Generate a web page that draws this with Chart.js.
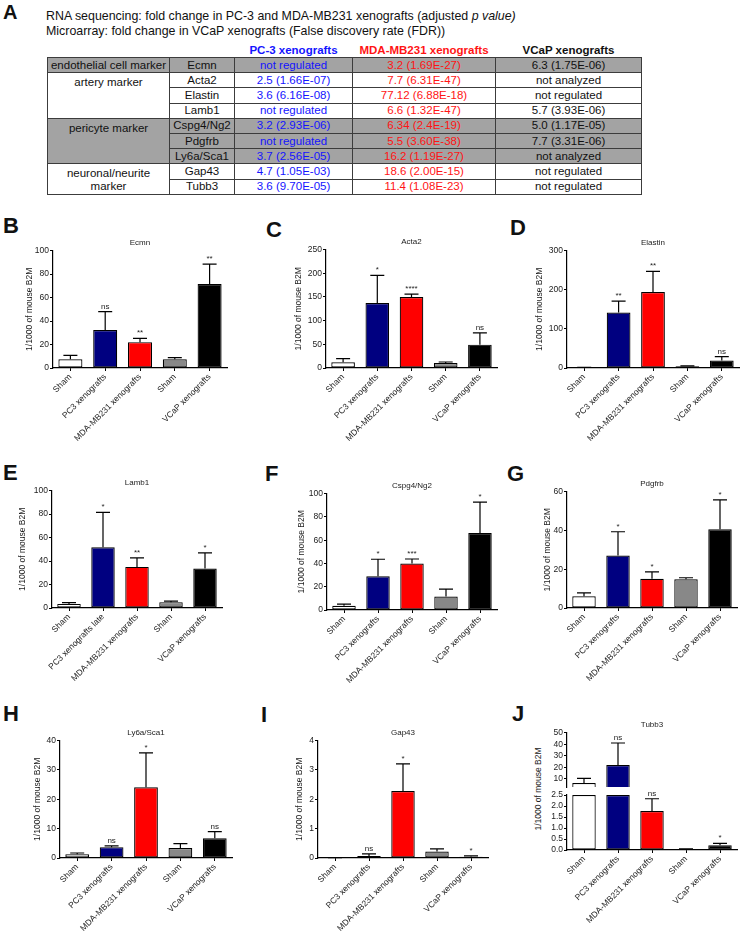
<!DOCTYPE html>
<html>
<head>
<meta charset="utf-8">
<script src="https://cdn.jsdelivr.net/npm/chart.js@4.4.0/dist/chart.umd.min.js"></script>
<style>
  html, body { margin: 0; padding: 0; background: #fff; }
  body { width: 740px; height: 931px; position: relative; overflow: hidden; font-family: "Liberation Sans", Arial, sans-serif; color: #111; }
  .letter { position: absolute; font-weight: bold; font-size: 22px; line-height: 22px; }
  .caption { position: absolute; left: 46px; top: 9px; font-size: 12.4px; line-height: 15px; white-space: nowrap; }
  table.tb { position: absolute; left: 47px; top: 44px; width: 594px; border-collapse: collapse; table-layout: fixed; font-size: 11.5px; }
  .tb td { border: 1px solid #3c3c3c; text-align: center; padding: 0; height: 14.2px; line-height: 13px; white-space: nowrap; overflow: hidden; }
  .tb tr.hd td { border: none; font-weight: bold; height: 13px; }
  .tb .g td { background: #a3a3a3; }
  .tb td.cat { vertical-align: top; padding-top: 3px; line-height: 12.7px; white-space: normal; }
  .blue { color: #1414ff; }
  .red { color: #ff1414; }
  .ytitle { position: absolute; font-size: 8.5px; color: #222; white-space: nowrap; transform: translate(-50%, -50%) rotate(-90deg); }
</style>
</head>
<body>
<div class="letter" style="left:3px;top:2px;font-size:20px;line-height:20px;">A</div>
<div class="caption">RNA sequencing: fold change in PC-3 and MDA-MB231 xenografts (adjusted <i>p value)</i><br>Microarray: fold change in VCaP xenografts (False discovery rate (FDR))</div>

<table class="tb">
  <colgroup><col style="width:122px"><col style="width:65px"><col style="width:118px"><col style="width:143px"><col style="width:146px"></colgroup>
  <tr class="hd"><td></td><td></td><td class="blue">PC-3 xenografts</td><td class="red">MDA-MB231 xenografts</td><td>VCaP xenografts</td></tr>
  <tr class="g"><td>endothelial cell marker</td><td>Ecmn</td><td class="blue">not regulated</td><td class="red">3.2 (1.69E-27)</td><td>6.3 (1.75E-06)</td></tr>
  <tr><td class="cat" rowspan="3">artery marker</td><td>Acta2</td><td class="blue">2.5 (1.66E-07)</td><td class="red">7.7 (6.31E-47)</td><td>not analyzed</td></tr>
  <tr><td>Elastin</td><td class="blue">3.6 (6.16E-08)</td><td class="red">77.12 (6.88E-18)</td><td>not regulated</td></tr>
  <tr><td>Lamb1</td><td class="blue">not regulated</td><td class="red">6.6 (1.32E-47)</td><td>5.7 (3.93E-06)</td></tr>
  <tr class="g"><td class="cat" rowspan="3">pericyte marker</td><td>Cspg4/Ng2</td><td class="blue">3.2 (2.93E-06)</td><td class="red">6.34 (2.4E-19)</td><td>5.0 (1.17E-05)</td></tr>
  <tr class="g"><td>Pdgfrb</td><td class="blue">not regulated</td><td class="red">5.5 (3.60E-38)</td><td>7.7 (3.31E-06)</td></tr>
  <tr class="g"><td>Ly6a/Sca1</td><td class="blue">3.7 (2.56E-05)</td><td class="red">16.2 (1.19E-27)</td><td>not analyzed</td></tr>
  <tr><td class="cat" rowspan="2">neuronal/neurite marker</td><td>Gap43</td><td class="blue">4.7 (1.05E-03)</td><td class="red">18.6 (2.00E-15)</td><td>not regulated</td></tr>
  <tr><td>Tubb3</td><td class="blue">3.6 (9.70E-05)</td><td class="red">11.4 (1.08E-23)</td><td>not regulated</td></tr>
</table>

<div class="letter" style="left:3px;top:215px;">B</div>
<div class="letter" style="left:266px;top:219px;">C</div>
<div class="letter" style="left:510px;top:217px;">D</div>
<div class="letter" style="left:3px;top:462px;">E</div>
<div class="letter" style="left:265px;top:463px;">F</div>
<div class="letter" style="left:507px;top:463px;">G</div>
<div class="letter" style="left:3px;top:703px;">H</div>
<div class="letter" style="left:261px;top:704px;">I</div>
<div class="letter" style="left:512px;top:703px;">J</div>
<div class="ytitle" style="left:538px;top:789px;">1/1000 of mouse B2M</div>

<script>
// groups on the x axis
const groupLabels = ['Sham', 'PC3 xenografts', 'MDA-MB231 xenografts', 'Sham', 'VCaP xenografts'];
const lamb1Labels = ['Sham', 'PC3 xenografts late', 'MDA-MB231 xenografts', 'Sham', 'VCaP xenografts'];
const barColors = ['#ffffff', '#000080', '#ff0000', '#888888', '#000000'];

// B - Ecmn
const ecmnMean = [7.4, 32.4, 22.0, 7.4, 71.6];
const ecmnSem = [3.4, 15.6, 3.3, 1.4, 16.8];
const ecmnSig = ['', 'ns', '**', '', '**'];
const ecmnTicks = [0, 20, 40, 60, 80, 100];

// C - Acta2
const acta2Mean = [12, 137, 150, 10.6, 49.3];
const acta2Sem = [7.7, 58.5, 6, 2.1, 24.7];
const acta2Sig = ['', '*', '****', '', 'ns'];
const acta2Ticks = [0, 50, 100, 150, 200, 250];

// D - Elastin
const elastinMean = [1, 142, 194, 4.5, 19];
const elastinSem = [0.5, 29, 53, 1, 10];
const elastinSig = ['', '**', '**', '', 'ns'];
const elastinTicks = [0, 100, 200, 300];

// E - Lamb1
const lamb1Mean = [3.5, 51.7, 35, 5, 33.6];
const lamb1Sem = [1, 29.8, 7.7, 0.8, 13.4];
const lamb1Sig = ['', '*', '**', '', '*'];
const lamb1Ticks = [0, 20, 40, 60, 80, 100];

// F - Cspg4/Ng2
const cspg4Mean = [3.6, 29, 40, 11.5, 66.2];
const cspg4Sem = [1.4, 14.6, 3.8, 6.5, 26.5];
const cspg4Sig = ['', '*', '***', '', '*'];
const cspg4Ticks = [0, 20, 40, 60, 80, 100];

// G - Pdgfrb
const pdgfrbMean = [6, 27, 15.1, 14.8, 40.6];
const pdgfrbSem = [1.8, 12.3, 3.5, 0.8, 15.1];
const pdgfrbSig = ['', '*', '*', '', '*'];
const pdgfrbTicks = [0, 20, 40, 60];

// H - Ly6a/Sca1
const ly6aMean = [1.3, 3.7, 24.1, 3.4, 6.7];
const ly6aSem = [0.4, 0.4, 11.7, 1.5, 2.3];
const ly6aSig = ['', 'ns', '*', '', 'ns'];
const ly6aTicks = [0, 10, 20, 30, 40];

// I - Gap43
const gap43Mean = [0.01, 0.07, 2.28, 0.22, 0.04];
const gap43Sem = [0.005, 0.07, 0.93, 0.09, 0.03];
const gap43Sig = ['', 'ns', '*', '', '*'];
const gap43Ticks = [0, 1, 2, 3, 4];

// J - Tubb3 (broken axis)
const tubb3Mean = [6.5, 22, 1.77, 0.04, 0.22];
const tubb3Sem = [4, 19, 0.56, 0.01, 0.08];
const tubb3Sig = ['', 'ns', 'ns', '', '*'];
const tubb3TopTicks = [10, 20, 30, 40, 50];
const tubb3LowTicks = [0, 0.5, 1, 1.5, 2, 2.5];
const tubb3TopMin = 3;
const tubb3LowMax = 2.5;

Chart.defaults.font.family = '"Liberation Sans", Arial, sans-serif';
Chart.defaults.color = '#222';
Chart.defaults.animation = false;

const TITLE_H = 15.6;
const X_H = 82;

function errorBars(p) {
  return {
    id: 'errorBars',
    afterDatasetsDraw(chart) {
      const ctx = chart.ctx;
      const xs = chart.scales.x;
      const ys = chart.scales.y;
      ctx.save();
      ctx.strokeStyle = '#000';
      ctx.fillStyle = '#222';
      ctx.lineWidth = 1.2;
      ctx.textAlign = 'center';
      ctx.font = '8px "Liberation Sans", Arial, sans-serif';
      p.mean.forEach((m, i) => {
        if (!(m > p.lo && m <= p.hi)) return;
        const x = xs.getPixelForValue(i);
        const y0 = ys.getPixelForValue(m);
        const y1 = ys.getPixelForValue(m + p.sem[i]);
        ctx.beginPath();
        ctx.moveTo(x, y0);
        ctx.lineTo(x, y1);
        ctx.moveTo(x - 7, y1);
        ctx.lineTo(x + 7, y1);
        ctx.stroke();
        if (p.sig[i]) ctx.fillText(p.sig[i], x, y1 - 3);
      });
      ctx.restore();
    }
  };
}

function addPanel(p) {
  const hasTitle = !!p.title;
  const topOff = hasTitle ? TITLE_H : 8;
  const showX = p.showX !== false;
  const xH = showX ? X_H : 0;
  const padBottom = showX ? 0 : 8;
  const padRight = 8;
  const left = Math.round(p.L - p.yW);
  const top = Math.round(p.T - topOff);
  const width = Math.round(p.R - p.L + p.yW + padRight);
  const height = Math.round(p.B0 - p.T + topOff + xH + padBottom);

  const cv = document.createElement('canvas');
  cv.style.position = 'absolute';
  cv.style.left = left + 'px';
  cv.style.top = top + 'px';
  cv.width = width;
  cv.height = height;
  cv.style.width = width + 'px';
  cv.style.height = height + 'px';
  document.body.appendChild(cv);

  return new Chart(cv, {
    type: 'bar',
    data: {
      labels: p.labels,
      datasets: [{
        data: p.data,
        backgroundColor: barColors,
        borderColor: '#000',
        borderWidth: 1.2,
        borderSkipped: p.skip || false,
        barPercentage: 0.69,
        categoryPercentage: 1
      }]
    },
    options: {
      responsive: false,
      devicePixelRatio: 1,
      layout: { padding: { top: hasTitle ? 0 : 8, right: padRight, bottom: padBottom, left: 0 } },
      plugins: {
        legend: { display: false },
        tooltip: { enabled: false },
        title: {
          display: hasTitle,
          text: p.title,
          fullSize: false,
          color: '#222',
          font: { size: 8, weight: 'normal' },
          padding: { top: 3, bottom: 3 }
        }
      },
      scales: {
        x: {
          display: showX,
          offset: true,
          grid: { display: true, offset: false, drawOnChartArea: false, drawTicks: true, tickLength: 3, color: '#000', lineWidth: 1 },
          border: { display: true, color: '#000', width: 1.2 },
          ticks: { autoSkip: false, minRotation: 45, maxRotation: 45, padding: 1, color: '#222', font: { size: 8.5 } },
          afterFit: (s) => { s.height = xH; }
        },
        y: {
          min: p.min,
          max: p.max,
          afterBuildTicks: (s) => { s.ticks = p.ticks.map(v => ({ value: v })); },
          grid: { display: true, drawOnChartArea: false, drawTicks: true, tickLength: 3, color: '#000', lineWidth: 1 },
          border: { display: true, color: '#000', width: 1.2 },
          ticks: {
            autoSkip: false,
            padding: 1,
            color: '#222',
            font: { size: 8.5, lineHeight: 1 },
            callback: (v) => p.decimals ? Number(v).toFixed(p.decimals) : v
          },
          title: { display: p.yTitle !== false, text: '1/1000 of mouse B2M', color: '#222', font: { size: 8.5 }, padding: 0 },
          afterFit: (s) => { s.width = p.yW; }
        }
      }
    },
    plugins: [errorBars({ mean: p.mean, sem: p.sem, sig: p.sig, lo: p.lo ?? -Infinity, hi: p.hi ?? Infinity })]
  });
}

function simple(title, labels, mean, sem, sig, ticks, geo) {
  return addPanel(Object.assign({
    title, labels, mean, sem, sig, ticks,
    data: mean,
    min: ticks[0],
    max: ticks[ticks.length - 1]
  }, geo));
}

simple('Ecmn', groupLabels, ecmnMean, ecmnSem, ecmnSig, ecmnTicks, { L: 53, T: 250.7, R: 227, B0: 368, yW: 28 });
simple('Acta2', groupLabels, acta2Mean, acta2Sem, acta2Sig, acta2Ticks, { L: 326, T: 250, R: 497, B0: 368, yW: 32 });
simple('Elastin', groupLabels, elastinMean, elastinSem, elastinSig, elastinTicks, { L: 567, T: 250.7, R: 739, B0: 368, yW: 32 });
simple('Lamb1', lamb1Labels, lamb1Mean, lamb1Sem, lamb1Sig, lamb1Ticks, { L: 52, T: 491, R: 222, B0: 608.5, yW: 34 });
simple('Cspg4/Ng2', groupLabels, cspg4Mean, cspg4Sem, cspg4Sig, cspg4Ticks, { L: 327, T: 493.3, R: 497, B0: 610, yW: 30 });
simple('Pdgfrb', groupLabels, pdgfrbMean, pdgfrbSem, pdgfrbSig, pdgfrbTicks, { L: 567, T: 491.7, R: 737, B0: 608, yW: 24 });
simple('Ly6a/Sca1', groupLabels, ly6aMean, ly6aSem, ly6aSig, ly6aTicks, { L: 60, T: 741, R: 232, B0: 858.3, yW: 27 });
simple('Gap43', groupLabels, gap43Mean, gap43Sem, gap43Sig, gap43Ticks, { L: 318, T: 741, R: 488, B0: 858.7, yW: 23 });

// J upper segment: floating bars from the break up to the mean
addPanel({
  title: 'Tubb3', labels: groupLabels, mean: tubb3Mean, sem: tubb3Sem, sig: tubb3Sig,
  data: tubb3Mean.map(v => v > tubb3TopMin ? [tubb3TopMin, v] : null),
  ticks: tubb3TopTicks, min: tubb3TopMin, max: tubb3TopTicks[tubb3TopTicks.length - 1],
  lo: tubb3LowMax, hi: Infinity, skip: 'start', showX: false, yTitle: false,
  L: 567, T: 732.7, R: 737, B0: 787, yW: 32
});
// J lower segment: bars cut at the break
addPanel({
  title: '', labels: groupLabels, mean: tubb3Mean, sem: tubb3Sem, sig: tubb3Sig,
  data: tubb3Mean.map(v => Math.min(v, tubb3LowMax)),
  ticks: tubb3LowTicks, min: 0, max: tubb3LowMax, decimals: 1,
  lo: -Infinity, hi: tubb3LowMax, yTitle: false,
  L: 567, T: 794.7, R: 737, B0: 850, yW: 32
});
</script>
</body>
</html>
